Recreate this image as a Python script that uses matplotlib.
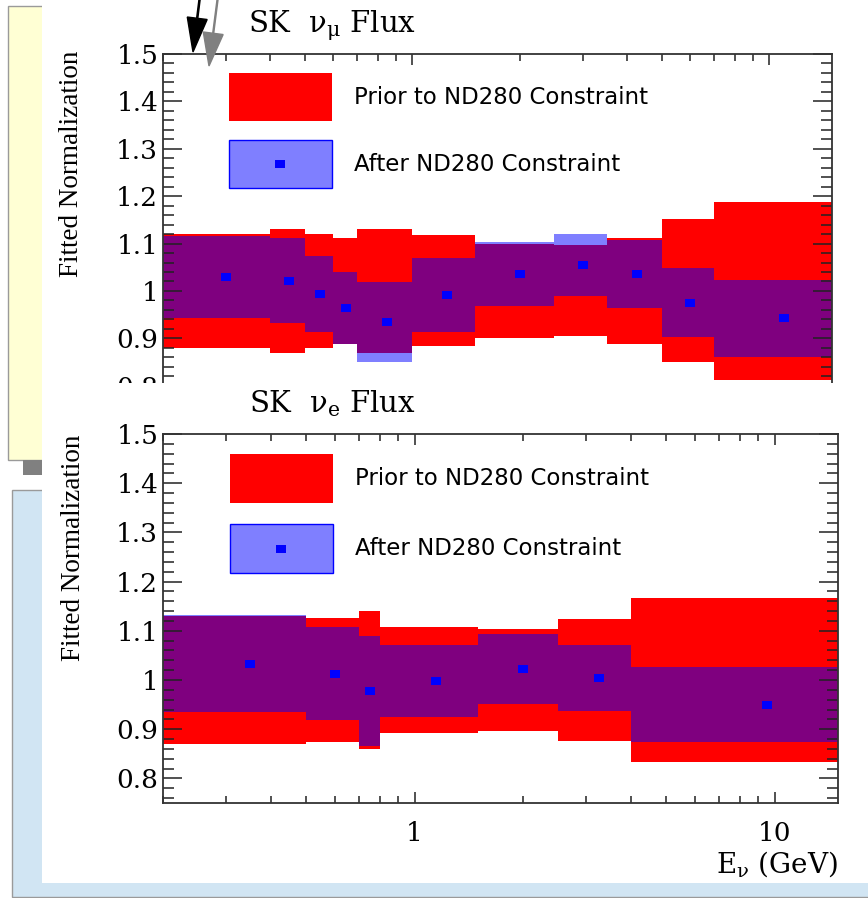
import numpy as np
import matplotlib
matplotlib.use('Agg')
import matplotlib.pyplot as plt
from matplotlib.patches import Rectangle, Patch, FancyArrow
from matplotlib.lines import Line2D
from matplotlib.legend_handler import HandlerLine2D
from matplotlib.transforms import IdentityTransform
from matplotlib.ticker import LogLocator, MultipleLocator, FuncFormatter, NullFormatter

# SK numu flux: bin edges in E_nu (GeV), prior 1-sigma, post-fit value and error
numu_edges = [0.0, 0.4, 0.5, 0.6, 0.7, 1.0, 1.5, 2.5, 3.5, 5.0, 7.0, 30.0]
numu_prior_err = [0.121, 0.130, 0.121, 0.112, 0.130, 0.117, 0.100, 0.096, 0.112, 0.151, 0.187]
numu_post = [1.029, 1.022, 0.994, 0.965, 0.934, 0.992, 1.036, 1.055, 1.035, 0.975, 0.942]
numu_post_err = [0.086, 0.089, 0.080, 0.076, 0.085, 0.078, 0.067, 0.065, 0.072, 0.073, 0.082]

# SK nue flux
nue_edges = [0.0, 0.5, 0.7, 0.8, 1.5, 2.5, 4.0, 30.0]
nue_prior_err = [0.131, 0.126, 0.140, 0.107, 0.104, 0.124, 0.167]
nue_post = [1.033, 1.013, 0.977, 0.998, 1.022, 1.005, 0.950]
nue_post_err = [0.099, 0.094, 0.112, 0.073, 0.071, 0.067, 0.077]

prior_label = 'Prior to ND280 Constraint'
post_label = 'After ND280 Constraint'

E_MIN, E_MAX = 0.2, 15.0
W, H = 868, 898

# small flat box used for the post-fit points
BOX = [(-1, -0.8), (1, -0.8), (1, 0.8), (-1, 0.8), (-1, -0.8)]
BOX_MS = 7.5

plt.rcParams['font.family'] = 'DejaVu Serif'
plt.rcParams['mathtext.fontset'] = 'dejavuserif'


class CenteredMarker(HandlerLine2D):
    # put the legend marker in the middle of the patch it sits on
    def create_artists(self, legend, orig_handle, xdescent, ydescent,
                       width, height, fontsize, trans):
        arts = super().create_artists(legend, orig_handle, xdescent, ydescent,
                                      width, height, fontsize, trans)
        for a in arts:
            a.set_ydata(np.full(len(a.get_xdata()), height / 2 - ydescent))
        return arts


def fig_rect(x0, y0, x1, y1):
    # pixel box with origin top-left -> [left, bottom, width, height] in figure fraction
    return [x0 / W, 1 - y1 / H, (x1 - x0) / W, (y1 - y0) / H]


def add_box(fig, x0, y0, x1, y1, z, **kw):
    l, b, w, h = fig_rect(x0, y0, x1, y1)
    fig.add_artist(Rectangle((l, b), w, h, transform=fig.transFigure, zorder=z, **kw))


def draw_panel(ax, edges, prior_err, post, post_err):
    e = np.clip(np.asarray(edges), E_MIN, E_MAX)
    prior_err = np.asarray(prior_err)
    post = np.asarray(post)
    post_err = np.asarray(post_err)

    ax.stairs(1 + prior_err, e, baseline=1 - prior_err, fill=True, color='red')
    ax.stairs(post + post_err, e, baseline=post - post_err, fill=True,
              color='blue', alpha=0.5)
    centers = 0.5 * (e[:-1] + e[1:])
    ax.plot(centers, post, ls='none', marker=BOX, ms=BOX_MS, mew=0, color='blue')

    ax.set_xscale('log')
    ax.set_xlim(E_MIN, E_MAX)
    ax.set_ylim(0.75, 1.5)
    ax.xaxis.set_major_locator(LogLocator(base=10))
    ax.xaxis.set_minor_locator(LogLocator(base=10, subs=np.arange(2, 10)))
    ax.xaxis.set_major_formatter(FuncFormatter(lambda v, _: f'{v:g}'))
    ax.xaxis.set_minor_formatter(NullFormatter())
    ax.yaxis.set_major_locator(MultipleLocator(0.1))
    ax.yaxis.set_minor_locator(MultipleLocator(0.02))
    ax.yaxis.set_major_formatter(FuncFormatter(lambda v, _: f'{v:g}'))

    ax.tick_params(which='both', direction='in', top=True, right=True,
                   color='#222222', width=1.1)
    ax.tick_params(axis='y', which='major', length=14, pad=3.5, labelsize=19)
    ax.tick_params(axis='y', which='minor', length=8)
    ax.tick_params(axis='x', which='major', length=8, pad=13, labelsize=19)
    ax.tick_params(axis='x', which='minor', length=5)
    for sp in ax.spines.values():
        sp.set_color('#333333')
        sp.set_linewidth(1.3)

    ax.set_ylabel('Fitted Normalization', family='Liberation Serif', fontsize=19.5)


def add_legend(fig, ax, x, y, hh, spacing):
    handles = [Patch(fc='red', ec='none'),
               (Patch(fc=(0, 0, 1, 0.5), ec='blue', lw=1),
                Line2D([], [], ls='none', marker=BOX, ms=BOX_MS, mew=0, color='blue'))]
    ax.legend(handles, [prior_label, post_label], loc='upper left',
              bbox_to_anchor=(x / W, 1 - y / H), bbox_transform=fig.transFigure,
              handler_map={Line2D: CenteredMarker()},
              frameon=False, borderpad=0, borderaxespad=0,
              handlelength=4.49, handleheight=hh, handletextpad=0.96,
              labelspacing=spacing, prop={'family': 'DejaVu Sans', 'size': 16.5})


fig = plt.figure(figsize=(W / 100, H / 100), dpi=100)

# slide furniture behind the plots
add_box(fig, 8, 6, 100, 460, -3, facecolor='#FFFFD4', edgecolor='#9a9a9a', lw=1)
add_box(fig, 23, 460, 100, 475, -3, facecolor='#808080', edgecolor='none')
add_box(fig, 12, 490, 880, 897, -3, facecolor='#D1E5F3', edgecolor='#9a9a9a', lw=1)
add_box(fig, 42, 0, 880, 883, -2, facecolor='white', edgecolor='none')

# numu panel (its lower part is hidden behind the nue panel)
ax1 = fig.add_axes(fig_rect(163, 54, 832, 409.4), zorder=0)
draw_panel(ax1, numu_edges, numu_prior_err, numu_post, numu_post_err)
ax1.yaxis.set_label_coords(-0.118, 0.69)
add_legend(fig, ax1, 229, 73, 2.85, 0.83)
fig.text(332 / W, 1 - 32 / H, r'SK  $\mathregular{\nu_{\mu}}$ Flux',
         ha='center', va='baseline', fontsize=21)

add_box(fig, 42, 383, 880, 883, 0.5, facecolor='white', edgecolor='none')

# nue panel
ax2 = fig.add_axes(fig_rect(163, 434, 838, 803), zorder=1)
draw_panel(ax2, nue_edges, nue_prior_err, nue_post, nue_post_err)
ax2.yaxis.set_label_coords(-0.114, 0.691)
add_legend(fig, ax2, 230, 454, 2.92, 0.92)
ax2.set_xlabel(r'E$_{\mathregular{\nu}}$ (GeV)', loc='right', fontsize=20, labelpad=2)
fig.text(332 / W, 1 - 412 / H, r'SK  $\mathregular{\nu_{e}}$ Flux',
         ha='center', va='baseline', fontsize=21)

# pointer arrows at the top edge
fig.add_artist(FancyArrow(200, H + 4, -7, -56, width=1.2, head_width=20, head_length=34,
                          length_includes_head=True, color='black',
                          transform=IdentityTransform(), zorder=3))
fig.add_artist(FancyArrow(218, H + 4, -9, -70, width=1.0, head_width=20, head_length=33,
                          length_includes_head=True, color='#808080',
                          transform=IdentityTransform(), zorder=3))

fig.savefig('out.png', dpi=100)
